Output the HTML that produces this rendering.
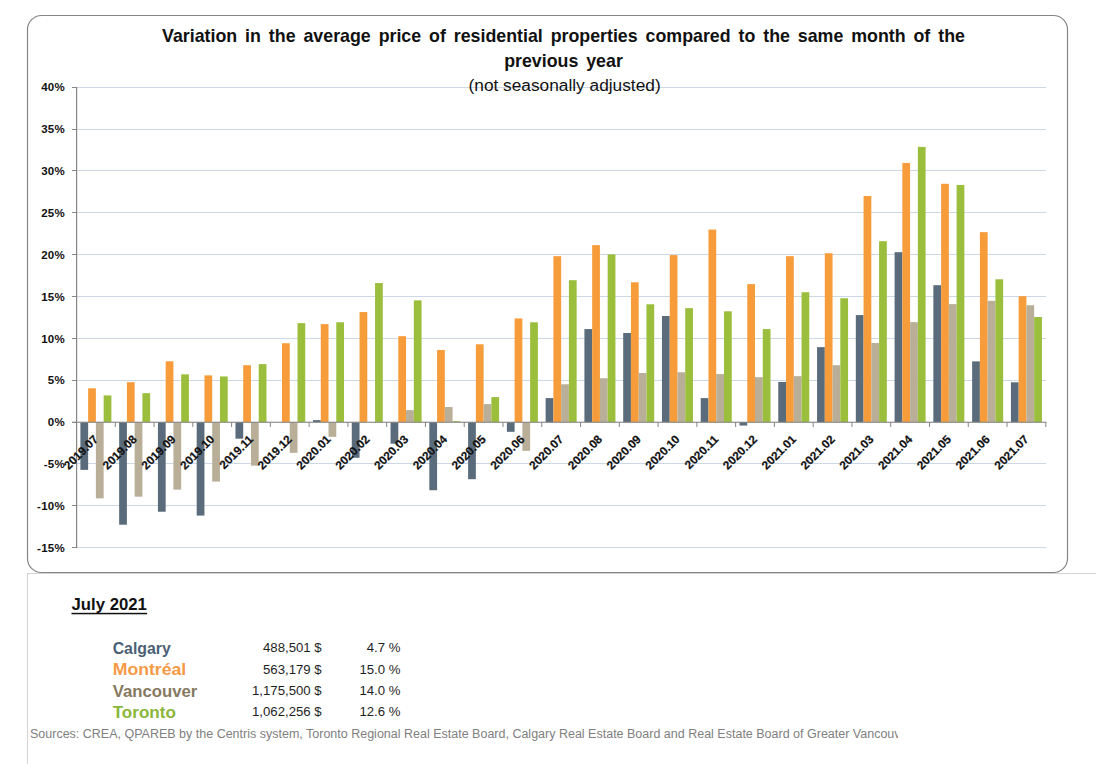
<!DOCTYPE html>
<html><head><meta charset="utf-8"><title>Variation in the average price of residential properties</title>
<style>
html,body{margin:0;padding:0;background:#fff;}
body{width:1096px;height:764px;overflow:hidden;}
svg{display:block;}
text{font-family:"Liberation Sans",sans-serif;}
</style></head>
<body>
<svg width="1096" height="764" viewBox="0 0 1096 764">
<rect x="27" y="573" width="1069" height="1" fill="#d4d4d4"/>
<rect x="27" y="573" width="1" height="191" fill="#d4d4d4"/>
<rect x="27.5" y="15.5" width="1040" height="557" rx="14" ry="14" fill="#fff" stroke="#858585" stroke-width="1.2"/>
<rect x="77" y="87" width="969" height="1" fill="#ccd8e5"/>
<rect x="77" y="129" width="969" height="1" fill="#ccd8e5"/>
<rect x="77" y="170" width="969" height="1" fill="#ccd8e5"/>
<rect x="77" y="212" width="969" height="1" fill="#ccd8e5"/>
<rect x="77" y="254" width="969" height="1" fill="#ccd8e5"/>
<rect x="77" y="296" width="969" height="1" fill="#ccd8e5"/>
<rect x="77" y="338" width="969" height="1" fill="#ccd8e5"/>
<rect x="77" y="380" width="969" height="1" fill="#ccd8e5"/>
<rect x="77" y="463" width="969" height="1" fill="#ccd8e5"/>
<rect x="77" y="505" width="969" height="1" fill="#ccd8e5"/>
<rect x="77" y="547" width="969" height="1" fill="#ccd8e5"/>
<rect x="80.38" y="422.2" width="7.75" height="47.7" fill="#5a6c7b"/>
<rect x="88.13" y="388.31" width="7.75" height="33.89" fill="#f69c3a"/>
<rect x="95.89" y="422.2" width="7.75" height="76.15" fill="#b9ae97"/>
<rect x="103.64" y="395.42" width="7.75" height="26.78" fill="#9cbe3d"/>
<rect x="119.15" y="422.2" width="7.75" height="102.51" fill="#5a6c7b"/>
<rect x="126.9" y="382.2" width="7.75" height="40" fill="#f69c3a"/>
<rect x="134.66" y="422.2" width="7.75" height="74.48" fill="#b9ae97"/>
<rect x="142.41" y="393.16" width="7.75" height="29.04" fill="#9cbe3d"/>
<rect x="157.92" y="422.2" width="7.75" height="89.54" fill="#5a6c7b"/>
<rect x="165.68" y="361.28" width="7.75" height="60.92" fill="#f69c3a"/>
<rect x="173.43" y="422.2" width="7.75" height="67.45" fill="#b9ae97"/>
<rect x="181.18" y="374.34" width="7.75" height="47.86" fill="#9cbe3d"/>
<rect x="196.69" y="422.2" width="7.75" height="93.39" fill="#5a6c7b"/>
<rect x="204.45" y="375.34" width="7.75" height="46.86" fill="#f69c3a"/>
<rect x="212.2" y="422.2" width="7.75" height="59.41" fill="#b9ae97"/>
<rect x="219.96" y="376.43" width="7.75" height="45.77" fill="#9cbe3d"/>
<rect x="235.47" y="422.2" width="7.75" height="16.48" fill="#5a6c7b"/>
<rect x="243.22" y="365.21" width="7.75" height="56.99" fill="#f69c3a"/>
<rect x="250.97" y="422.2" width="7.75" height="43.43" fill="#b9ae97"/>
<rect x="258.73" y="364.13" width="7.75" height="58.07" fill="#9cbe3d"/>
<rect x="281.99" y="343.21" width="7.75" height="78.99" fill="#f69c3a"/>
<rect x="289.75" y="422.2" width="7.75" height="30.63" fill="#b9ae97"/>
<rect x="297.5" y="323.12" width="7.75" height="99.08" fill="#9cbe3d"/>
<rect x="313.01" y="420.11" width="7.75" height="2.09" fill="#5a6c7b"/>
<rect x="320.76" y="324.13" width="7.75" height="98.07" fill="#f69c3a"/>
<rect x="328.52" y="422.2" width="7.75" height="14.64" fill="#b9ae97"/>
<rect x="336.27" y="322.29" width="7.75" height="99.91" fill="#9cbe3d"/>
<rect x="351.78" y="422.2" width="7.75" height="35.56" fill="#5a6c7b"/>
<rect x="359.54" y="312.08" width="7.75" height="110.12" fill="#f69c3a"/>
<rect x="375.04" y="283.04" width="7.75" height="139.16" fill="#9cbe3d"/>
<rect x="390.55" y="422.2" width="7.75" height="21.51" fill="#5a6c7b"/>
<rect x="398.31" y="336.18" width="7.75" height="86.02" fill="#f69c3a"/>
<rect x="406.06" y="410.15" width="7.75" height="12.05" fill="#b9ae97"/>
<rect x="413.82" y="300.36" width="7.75" height="121.84" fill="#9cbe3d"/>
<rect x="429.33" y="422.2" width="7.75" height="68.03" fill="#5a6c7b"/>
<rect x="437.08" y="349.98" width="7.75" height="72.22" fill="#f69c3a"/>
<rect x="444.83" y="407.05" width="7.75" height="15.15" fill="#b9ae97"/>
<rect x="452.59" y="421.2" width="7.75" height="1" fill="#9cbe3d"/>
<rect x="468.1" y="422.2" width="7.75" height="56.99" fill="#5a6c7b"/>
<rect x="475.85" y="344.29" width="7.75" height="77.91" fill="#f69c3a"/>
<rect x="483.61" y="404.13" width="7.75" height="18.07" fill="#b9ae97"/>
<rect x="491.36" y="397.1" width="7.75" height="25.1" fill="#9cbe3d"/>
<rect x="506.87" y="422.2" width="7.75" height="9.62" fill="#5a6c7b"/>
<rect x="514.62" y="318.44" width="7.75" height="103.76" fill="#f69c3a"/>
<rect x="522.38" y="422.2" width="7.75" height="28.62" fill="#b9ae97"/>
<rect x="530.13" y="322.29" width="7.75" height="99.91" fill="#9cbe3d"/>
<rect x="545.64" y="398.1" width="7.75" height="24.1" fill="#5a6c7b"/>
<rect x="553.4" y="256.18" width="7.75" height="166.02" fill="#f69c3a"/>
<rect x="561.15" y="384.29" width="7.75" height="37.91" fill="#b9ae97"/>
<rect x="568.9" y="280.2" width="7.75" height="142" fill="#9cbe3d"/>
<rect x="584.41" y="329.06" width="7.75" height="93.14" fill="#5a6c7b"/>
<rect x="592.17" y="245.13" width="7.75" height="177.07" fill="#f69c3a"/>
<rect x="599.92" y="378.27" width="7.75" height="43.93" fill="#b9ae97"/>
<rect x="607.68" y="254.34" width="7.75" height="167.86" fill="#9cbe3d"/>
<rect x="623.19" y="333" width="7.75" height="89.2" fill="#5a6c7b"/>
<rect x="630.94" y="282.29" width="7.75" height="139.91" fill="#f69c3a"/>
<rect x="638.69" y="373" width="7.75" height="49.2" fill="#b9ae97"/>
<rect x="646.45" y="304.29" width="7.75" height="117.91" fill="#9cbe3d"/>
<rect x="661.96" y="316.01" width="7.75" height="106.19" fill="#5a6c7b"/>
<rect x="669.71" y="255.09" width="7.75" height="167.11" fill="#f69c3a"/>
<rect x="677.47" y="372.24" width="7.75" height="49.96" fill="#b9ae97"/>
<rect x="685.22" y="308.14" width="7.75" height="114.06" fill="#9cbe3d"/>
<rect x="700.73" y="398.1" width="7.75" height="24.1" fill="#5a6c7b"/>
<rect x="708.48" y="229.57" width="7.75" height="192.63" fill="#f69c3a"/>
<rect x="716.24" y="374.08" width="7.75" height="48.12" fill="#b9ae97"/>
<rect x="723.99" y="311.32" width="7.75" height="110.88" fill="#9cbe3d"/>
<rect x="739.5" y="422.2" width="7.75" height="3.35" fill="#5a6c7b"/>
<rect x="747.26" y="284.13" width="7.75" height="138.07" fill="#f69c3a"/>
<rect x="755.01" y="377.18" width="7.75" height="45.02" fill="#b9ae97"/>
<rect x="762.76" y="329.06" width="7.75" height="93.14" fill="#9cbe3d"/>
<rect x="778.27" y="381.95" width="7.75" height="40.25" fill="#5a6c7b"/>
<rect x="786.03" y="256.18" width="7.75" height="166.02" fill="#f69c3a"/>
<rect x="793.78" y="376.18" width="7.75" height="46.02" fill="#b9ae97"/>
<rect x="801.54" y="292.24" width="7.75" height="129.96" fill="#9cbe3d"/>
<rect x="817.05" y="347.14" width="7.75" height="75.06" fill="#5a6c7b"/>
<rect x="824.8" y="253.25" width="7.75" height="168.95" fill="#f69c3a"/>
<rect x="832.55" y="365.21" width="7.75" height="56.99" fill="#b9ae97"/>
<rect x="840.31" y="298.27" width="7.75" height="123.93" fill="#9cbe3d"/>
<rect x="855.82" y="315.09" width="7.75" height="107.11" fill="#5a6c7b"/>
<rect x="863.57" y="196.01" width="7.75" height="226.19" fill="#f69c3a"/>
<rect x="871.33" y="342.96" width="7.75" height="79.24" fill="#b9ae97"/>
<rect x="879.08" y="241.2" width="7.75" height="181" fill="#9cbe3d"/>
<rect x="894.59" y="252.16" width="7.75" height="170.04" fill="#5a6c7b"/>
<rect x="902.34" y="162.96" width="7.75" height="259.24" fill="#f69c3a"/>
<rect x="910.1" y="322.12" width="7.75" height="100.08" fill="#b9ae97"/>
<rect x="917.85" y="146.89" width="7.75" height="275.31" fill="#9cbe3d"/>
<rect x="933.36" y="285.22" width="7.75" height="136.98" fill="#5a6c7b"/>
<rect x="941.12" y="183.8" width="7.75" height="238.4" fill="#f69c3a"/>
<rect x="948.87" y="304.13" width="7.75" height="118.07" fill="#b9ae97"/>
<rect x="956.62" y="184.97" width="7.75" height="237.23" fill="#9cbe3d"/>
<rect x="972.13" y="361.36" width="7.75" height="60.84" fill="#5a6c7b"/>
<rect x="979.89" y="232.16" width="7.75" height="190.04" fill="#f69c3a"/>
<rect x="987.64" y="300.86" width="7.75" height="121.34" fill="#b9ae97"/>
<rect x="995.4" y="279.27" width="7.75" height="142.93" fill="#9cbe3d"/>
<rect x="1010.91" y="382.28" width="7.75" height="39.92" fill="#5a6c7b"/>
<rect x="1018.66" y="296.18" width="7.75" height="126.02" fill="#f69c3a"/>
<rect x="1026.41" y="305.22" width="7.75" height="116.98" fill="#b9ae97"/>
<rect x="1034.17" y="317.01" width="7.75" height="105.19" fill="#9cbe3d"/>
<rect x="76" y="87" width="1.2" height="461" fill="#868686"/>
<rect x="72" y="87" width="4.5" height="1" fill="#868686"/>
<rect x="72" y="129" width="4.5" height="1" fill="#868686"/>
<rect x="72" y="170" width="4.5" height="1" fill="#868686"/>
<rect x="72" y="212" width="4.5" height="1" fill="#868686"/>
<rect x="72" y="254" width="4.5" height="1" fill="#868686"/>
<rect x="72" y="296" width="4.5" height="1" fill="#868686"/>
<rect x="72" y="338" width="4.5" height="1" fill="#868686"/>
<rect x="72" y="380" width="4.5" height="1" fill="#868686"/>
<rect x="72" y="422" width="4.5" height="1" fill="#868686"/>
<rect x="72" y="463" width="4.5" height="1" fill="#868686"/>
<rect x="72" y="505" width="4.5" height="1" fill="#868686"/>
<rect x="72" y="547" width="4.5" height="1" fill="#868686"/>
<rect x="72" y="421.7" width="974.3" height="1.1" fill="#868686"/>
<rect x="76" y="422" width="1" height="5" fill="#868686"/>
<rect x="114.77" y="422" width="1" height="5" fill="#868686"/>
<rect x="153.54" y="422" width="1" height="5" fill="#868686"/>
<rect x="192.32" y="422" width="1" height="5" fill="#868686"/>
<rect x="231.09" y="422" width="1" height="5" fill="#868686"/>
<rect x="269.86" y="422" width="1" height="5" fill="#868686"/>
<rect x="308.63" y="422" width="1" height="5" fill="#868686"/>
<rect x="347.4" y="422" width="1" height="5" fill="#868686"/>
<rect x="386.18" y="422" width="1" height="5" fill="#868686"/>
<rect x="424.95" y="422" width="1" height="5" fill="#868686"/>
<rect x="463.72" y="422" width="1" height="5" fill="#868686"/>
<rect x="502.49" y="422" width="1" height="5" fill="#868686"/>
<rect x="541.26" y="422" width="1" height="5" fill="#868686"/>
<rect x="580.04" y="422" width="1" height="5" fill="#868686"/>
<rect x="618.81" y="422" width="1" height="5" fill="#868686"/>
<rect x="657.58" y="422" width="1" height="5" fill="#868686"/>
<rect x="696.35" y="422" width="1" height="5" fill="#868686"/>
<rect x="735.12" y="422" width="1" height="5" fill="#868686"/>
<rect x="773.9" y="422" width="1" height="5" fill="#868686"/>
<rect x="812.67" y="422" width="1" height="5" fill="#868686"/>
<rect x="851.44" y="422" width="1" height="5" fill="#868686"/>
<rect x="890.21" y="422" width="1" height="5" fill="#868686"/>
<rect x="928.98" y="422" width="1" height="5" fill="#868686"/>
<rect x="967.76" y="422" width="1" height="5" fill="#868686"/>
<rect x="1006.53" y="422" width="1" height="5" fill="#868686"/>
<rect x="1045.3" y="422" width="1" height="5" fill="#868686"/>
<g font-family="Liberation Sans, sans-serif" font-weight="bold" font-size="11.5" letter-spacing="0.3" fill="#111" text-anchor="end"><text x="65.1" y="91.30">40%</text><text x="65.1" y="133.17">35%</text><text x="65.1" y="175.04">30%</text><text x="65.1" y="216.91">25%</text><text x="65.1" y="258.78">20%</text><text x="65.1" y="300.65">15%</text><text x="65.1" y="342.52">10%</text><text x="65.1" y="384.39">5%</text><text x="65.1" y="426.26">0%</text><text x="65.1" y="468.13">-5%</text><text x="65.1" y="510.00">-10%</text><text x="65.1" y="551.87">-15%</text></g>
<g font-family="Liberation Sans, sans-serif" font-weight="bold" font-size="11.8" fill="#111" stroke="#111" stroke-width="0.2" text-anchor="end"><text transform="translate(98.89,440.0) rotate(-45)">2019.07</text><text transform="translate(137.66,440.0) rotate(-45)">2019.08</text><text transform="translate(176.43,440.0) rotate(-45)">2019.09</text><text transform="translate(215.2,440.0) rotate(-45)">2019.10</text><text transform="translate(253.97,440.0) rotate(-45)">2019.11</text><text transform="translate(292.75,440.0) rotate(-45)">2019.12</text><text transform="translate(331.52,440.0) rotate(-45)">2020.01</text><text transform="translate(370.29,440.0) rotate(-45)">2020.02</text><text transform="translate(409.06,440.0) rotate(-45)">2020.03</text><text transform="translate(447.83,440.0) rotate(-45)">2020.04</text><text transform="translate(486.61,440.0) rotate(-45)">2020.05</text><text transform="translate(525.38,440.0) rotate(-45)">2020.06</text><text transform="translate(564.15,440.0) rotate(-45)">2020.07</text><text transform="translate(602.92,440.0) rotate(-45)">2020.08</text><text transform="translate(641.69,440.0) rotate(-45)">2020.09</text><text transform="translate(680.47,440.0) rotate(-45)">2020.10</text><text transform="translate(719.24,440.0) rotate(-45)">2020.11</text><text transform="translate(758.01,440.0) rotate(-45)">2020.12</text><text transform="translate(796.78,440.0) rotate(-45)">2021.01</text><text transform="translate(835.55,440.0) rotate(-45)">2021.02</text><text transform="translate(874.33,440.0) rotate(-45)">2021.03</text><text transform="translate(913.1,440.0) rotate(-45)">2021.04</text><text transform="translate(951.87,440.0) rotate(-45)">2021.05</text><text transform="translate(990.64,440.0) rotate(-45)">2021.06</text><text transform="translate(1029.41,440.0) rotate(-45)">2021.07</text></g>
<g font-family="Liberation Sans, sans-serif" fill="#111" text-anchor="middle"><text x="563.5" y="42" font-weight="bold" font-size="17.8" word-spacing="3.0">Variation in the average price of residential properties compared to the same month of the</text><text x="563.5" y="67.4" font-weight="bold" font-size="17.8" word-spacing="3.0">previous year</text><text x="564.6" y="91.2" font-size="17.3">(not seasonally adjusted)</text></g>
<g font-family="Liberation Sans, sans-serif">
<text x="71.5" y="610.2" font-weight="bold" font-size="17.4" fill="#111" textLength="75.4" lengthAdjust="spacingAndGlyphs">July 2021</text>
<rect x="71.5" y="612.8" width="75.6" height="1.5" fill="#111"/>
<text x="112.7" y="654.0" font-weight="bold" font-size="16.6" fill="#4a5f76" textLength="58.0" lengthAdjust="spacingAndGlyphs">Calgary</text>
<text x="321.7" y="652.4" font-size="13.2" fill="#1f1f1f" text-anchor="end">488,501 $</text>
<text x="400.5" y="652.4" font-size="13.2" fill="#1f1f1f" text-anchor="end">4.7 %</text>
<text x="112.7" y="675.4" font-weight="bold" font-size="16.6" fill="#f59a46" textLength="73.6" lengthAdjust="spacingAndGlyphs">Montréal</text>
<text x="321.7" y="673.6" font-size="13.2" fill="#1f1f1f" text-anchor="end">563,179 $</text>
<text x="400.5" y="673.6" font-size="13.2" fill="#1f1f1f" text-anchor="end">15.0 %</text>
<text x="112.7" y="696.7" font-weight="bold" font-size="16.6" fill="#86795f" textLength="84.6" lengthAdjust="spacingAndGlyphs">Vancouver</text>
<text x="321.7" y="694.8" font-size="13.2" fill="#1f1f1f" text-anchor="end">1,175,500 $</text>
<text x="400.5" y="694.8" font-size="13.2" fill="#1f1f1f" text-anchor="end">14.0 %</text>
<text x="112.7" y="718.0" font-weight="bold" font-size="16.6" fill="#8ab63a" textLength="63.2" lengthAdjust="spacingAndGlyphs">Toronto</text>
<text x="321.7" y="716.0" font-size="13.2" fill="#1f1f1f" text-anchor="end">1,062,256 $</text>
<text x="400.5" y="716.0" font-size="13.2" fill="#1f1f1f" text-anchor="end">12.6 %</text>
</g>
<clipPath id="c1"><rect x="0" y="700" width="898" height="64"/></clipPath>
<text clip-path="url(#c1)" x="30" y="737.5" font-family="Liberation Sans, sans-serif" font-size="12.5" fill="#808080">Sources: CREA, QPAREB by the Centris system, Toronto Regional Real Estate Board, Calgary Real Estate Board and Real Estate Board of Greater Vancouver</text>
</svg>
</body></html>
